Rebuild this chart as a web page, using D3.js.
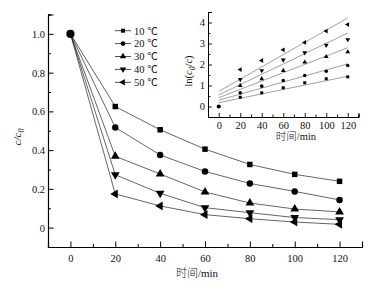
<!DOCTYPE html>
<html>
<head>
<meta charset="utf-8">
<script src="https://cdn.jsdelivr.net/npm/d3@7"></script>
<style>
body{margin:0;background:#fff}
text{font-family:"Liberation Serif","Noto Sans CJK SC",serif;fill:#111}
</style>
</head>
<body>
<div id="chart"></div>
<script>
// data
var times = [0, 20, 40, 60, 80, 100, 120]
var temps = ["10 ℃", "20 ℃", "30 ℃", "40 ℃", "50 ℃"]
var c10 = [1.0, 0.625, 0.505, 0.405, 0.326, 0.275, 0.239]
var c20 = [1.0, 0.517, 0.375, 0.290, 0.228, 0.187, 0.143]
var c30 = [1.0, 0.368, 0.277, 0.184, 0.127, 0.096, 0.081]
var c40 = [1.0, 0.273, 0.177, 0.103, 0.077, 0.052, 0.041]
var c50 = [1.0, 0.174, 0.112, 0.067, 0.046, 0.029, 0.017]
// inset ln(c0/c)
var l10 = [0, 0.44, 0.65, 0.89, 1.13, 1.32, 1.41]
var l20 = [0, 0.65, 0.97, 1.24, 1.48, 1.68, 1.95]
var l30 = [0, 1.00, 1.32, 1.71, 2.11, 2.37, 2.60]
var l40 = [0, 1.29, 1.71, 2.22, 2.56, 2.92, 3.19]
var l50 = [0, 1.76, 2.19, 2.70, 3.05, 3.59, 3.90]
// fitted lines (value at 0 and at 120)
var fitStart = [0.18, 0.30, 0.42, 0.55, 0.72]
var fitEnd   = [1.44, 2.03, 2.80, 3.50, 4.22]
var xTicks = [0, 20, 40, 60, 80, 100, 120]
var yTicks = [0, 0.2, 0.4, 0.6, 0.8, 1.0]
var insetYTicks = [0, 1, 2, 3, 4]

var mainSeries = [c10, c20, c30, c40, c50]
var lnSeries = [l10, l20, l30, l40, l50]

var W = 374, H = 290
var svg = d3.select("#chart").append("svg").attr("width", W).attr("height", H)

// marker shapes: square, circle, up, down, left
var shapes = [
  {type: d3.symbolSquare, rot: 0, k: 1},
  {type: d3.symbolCircle, rot: 0, k: 1.1},
  {type: d3.symbolTriangle, rot: 0, k: 1.1},
  {type: d3.symbolTriangle, rot: 180, k: 1.1},
  {type: d3.symbolTriangle, rot: -90, k: 1.1}
]
function marker(g, i, x, y, size){
  g.append("path")
    .attr("d", d3.symbol().type(shapes[i].type).size(size * shapes[i].k)())
    .attr("transform", "translate(" + x + "," + y + ") rotate(" + shapes[i].rot + ")")
    .attr("fill", "#000")
}

//* main chart
var x = d3.scaleLinear().domain([-10, 130]).range([48, 362])
var y = d3.scaleLinear().domain([-0.1, 1.1]).range([247, 14.5])

var gx = svg.append("g").attr("transform", "translate(0,247)")
gx.call(d3.axisBottom(x).tickValues(xTicks).tickSize(-5.5).tickPadding(8).tickFormat(d3.format("d")))
gx.append("g").call(d3.axisBottom(x).tickValues(d3.range(-10, 131, 10).filter(function(d){return d % 20 != 0})).tickSize(-3).tickFormat(""))
var gy = svg.append("g").attr("transform", "translate(48,0)")
gy.call(d3.axisLeft(y).tickValues(yTicks).tickSize(-5.5).tickPadding(3).tickFormat(function(d){return d == 0 ? "0" : d3.format(".1f")(d)}))
gy.append("g").call(d3.axisLeft(y).tickValues([-0.1, 0.1, 0.3, 0.5, 0.7, 0.9, 1.1]).tickSize(-3).tickFormat(""))
svg.selectAll(".domain").attr("stroke", "#000").attr("stroke-width", 1.1)
svg.selectAll(".tick line").attr("stroke", "#000").attr("stroke-width", 1)
svg.selectAll(".tick text").style("font-size", "10.5px").attr("fill", "#111")

var line = d3.line().x(function(d, i){return x(times[i])}).y(function(d){return y(d)})
mainSeries.forEach(function(s, i){
  svg.append("path").datum(s).attr("d", line).attr("fill", "none").attr("stroke", "#222").attr("stroke-width", 0.7)
})
mainSeries.forEach(function(s, i){
  s.forEach(function(v, j){ if (j > 0) marker(svg, i, x(times[j]), y(v), 30) })
})
// all series share the start point; the circle covers the rest there
marker(svg, 1, x(times[0]), y(c10[0]), 48)

svg.append("text").attr("transform", "translate(21,137) rotate(-90)").attr("text-anchor", "middle")
  .style("font-size", "11px").style("font-style", "italic")
  .html('c/c<tspan dy="3" style="font-size:8px">0</tspan>')
svg.append("text").attr("x", 197).attr("y", 277).attr("text-anchor", "middle").style("font-size", "11px").style("font-weight", "300").text("时间/min")

// legend
var leg = svg.append("g")
temps.forEach(function(t, i){
  var ly = 30.7 + i * 12.9
  leg.append("line").attr("x1", 115).attr("x2", 131).attr("y1", ly).attr("y2", ly).attr("stroke", "#222").attr("stroke-width", 0.8)
  marker(leg, i, 123, ly, 16)
  leg.append("text").attr("x", 134).attr("y", ly + 3.8).style("font-size", "10.5px").text(t)
})

//* inset
var ix = d3.scaleLinear().domain([-10, 130]).range([208, 358.5])
var iy = d3.scaleLinear().domain([-0.5, 4.5]).range([117, 12])
var inset = svg.append("g")
var igx = inset.append("g").attr("transform", "translate(0,117)")
igx.call(d3.axisBottom(ix).tickValues(xTicks).tickSize(-4).tickPadding(5).tickFormat(d3.format("d")))
igx.append("g").call(d3.axisBottom(ix).tickValues(d3.range(-10, 131, 10).filter(function(d){return d % 20 != 0})).tickSize(-2.5).tickFormat(""))
var igy = inset.append("g").attr("transform", "translate(208,0)")
igy.call(d3.axisLeft(iy).tickValues(insetYTicks).tickSize(-4).tickPadding(3).tickFormat(d3.format("d")))
igy.append("g").call(d3.axisLeft(iy).tickValues([-0.5, 0.5, 1.5, 2.5, 3.5, 4.5]).tickSize(-2.5).tickFormat(""))
inset.selectAll(".domain").attr("stroke", "#000").attr("stroke-width", 1)
inset.selectAll(".tick line").attr("stroke", "#000").attr("stroke-width", 0.9)
inset.selectAll(".tick text").style("font-size", "10.5px").attr("fill", "#111")

fitStart.forEach(function(a, i){
  inset.append("line").attr("x1", ix(0)).attr("y1", iy(a)).attr("x2", ix(120)).attr("y2", iy(fitEnd[i]))
    .attr("stroke", "#777").attr("stroke-width", 0.7)
})
lnSeries.forEach(function(s, i){
  s.forEach(function(v, j){ if (j > 0) marker(inset, i, ix(times[j]), iy(v), 9) })
})
marker(inset, 1, ix(times[0]), iy(l10[0]), 12)

inset.append("text").attr("transform", "translate(192,71) rotate(-90)").attr("text-anchor", "middle")
  .style("font-size", "10.5px")
  .html('ln(<tspan style="font-style:italic">c</tspan><tspan dy="2.5" style="font-size:7.5px;font-style:italic">0</tspan><tspan dy="-2.5">/</tspan><tspan style="font-style:italic">c</tspan>)')
inset.append("text").attr("x", 296).attr("y", 140).attr("text-anchor", "middle").style("font-size", "10.5px").style("font-weight", "300").text("时间/min")
</script>
</body>
</html>
